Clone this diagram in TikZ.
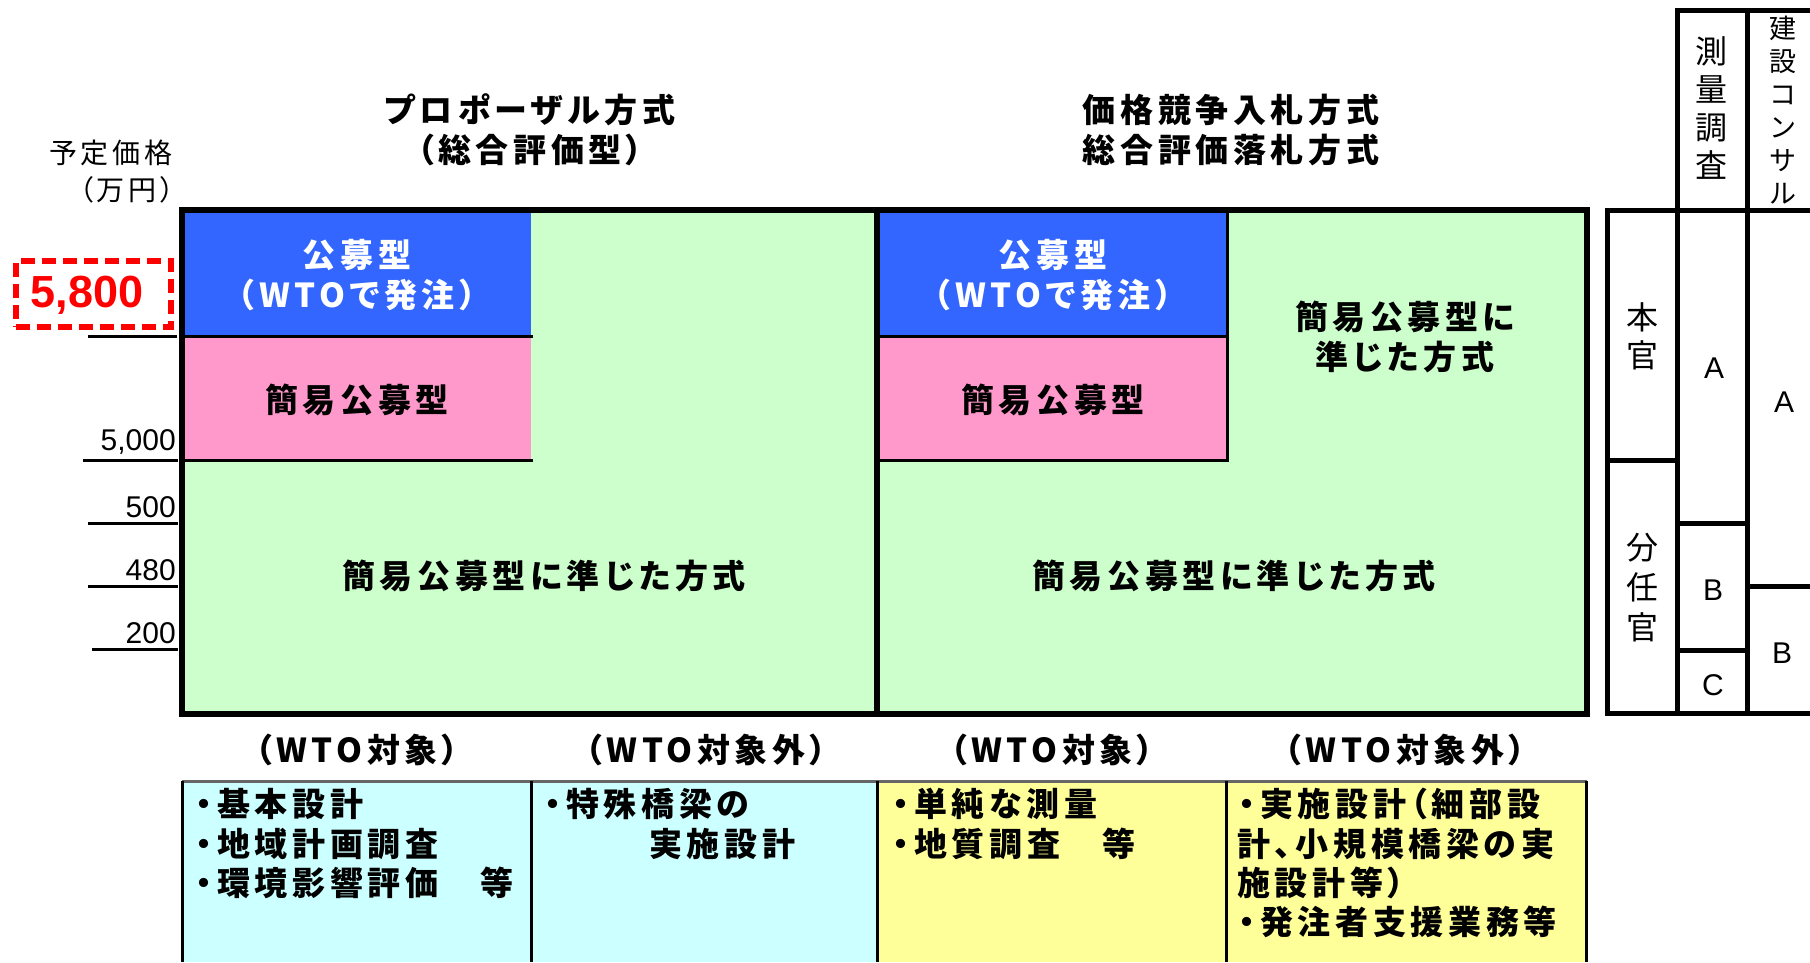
\documentclass[tikz,border=0pt]{standalone}
\usepackage{xcolor}
\usepackage{fontspec}
\setsansfont{Liberation Sans}
\newfontfamily\jpfont[LetterSpace=14,RawFeature=+palt]{Noto Sans CJK JP}
\newfontfamily\jpcell{Noto Sans CJK JP}
\usepackage{tikz}

\definecolor{openblue}{HTML}{3366FF}
\definecolor{simplepink}{HTML}{FF99CC}
\definecolor{restgreen}{HTML}{CCFFCC}
\definecolor{designcyan}{HTML}{CCFFFF}
\definecolor{surveyyellow}{HTML}{FFFF99}

\begin{document}
\begin{tikzpicture}[x=1pt, y=-1pt,
  jtext/.style={font=\jpfont\bfseries\fontsize{33}{40}\selectfont, align=center, inner sep=0pt},
  item/.style={jtext, anchor=west, align=left},
  cell/.style={font=\jpcell\fontsize{32}{38}\selectfont, align=center, inner sep=0pt},
  grade/.style={font=\sffamily\fontsize{30}{36}\selectfont, inner sep=0pt},
  value/.style={font=\sffamily\fontsize{30}{36}\selectfont, inner sep=0pt, anchor=south east},
  tick/.style={line width=3pt},
  split/.style={line width=3pt},
  rule/.style={line width=5pt},
  frame/.style={line width=6pt}]

\useasboundingbox (0,0) rectangle (1810,962);

% price scale on the left
\node[font=\jpfont\fontsize{28}{30}\selectfont, inner sep=0pt, anchor=east] (price-label) at (173,153) {予定価格};
\node[font=\jpfont\fontsize{28}{30}\selectfont, inner sep=0pt, anchor=east] (price-unit) at (175,190) {（万円）};

\node[draw=red, line width=6pt, dash pattern=on 14pt off 7pt,
  minimum width=155pt, minimum height=66pt, inner sep=0pt] (max-box) at (93.5,294) {};
\node[font=\sffamily\bfseries\fontsize{45}{48}\selectfont, text=red, inner sep=0pt] (max-price) at (87,295) {5,800};
\draw[tick] (88,336) -- (177,336);

\foreach \v/\y/\x [count=\i] in {{5,000}/460/83, 500/523/88, 480/586/88, 200/649/92} {
  \coordinate (tick-\i) at (\x,\y);
  \draw[tick] (tick-\i) -- (178,\y);
  \node[value] (value-\i) at (176,{\y-5}) {\v};
}

% the two panels
\fill[restgreen] (182,210) rectangle (1587,714);
\foreach \x in {182,877} {
  \fill[openblue] (\x,210) rectangle ++(349,126);
  \fill[simplepink] (\x,336) rectangle ++(349,124);
}
\draw[split] (182,336) -- (533,336) (182,460) -- (533,460);
\draw[split] (877,336) -- (1228,336) (877,460) -- (1227,460) -- (1227,210);
\draw[frame] (182,210) rectangle (1587,714);
\draw[frame] (877,210) -- (877,714);

\node[jtext] (title-proposal) at (530,130) {プロポーザル方式\\（総合評価型）};
\node[jtext] (title-price) at (1231,130) {価格競争入札方式\\総合評価落札方式};

\foreach \x [count=\n] in {357,1053} {
  \node[jtext, text=white] (open-\n) at (\x,275) {公募型\\（WTOで発注）};
  \node[jtext] (simple-\n) at (\x,400) {簡易公募型};
}
\node[jtext] (similar-1) at (544,576) {簡易公募型に準じた方式};
\node[jtext] (similar-2) at (1234,576) {簡易公募型に準じた方式};
\node[jtext] (similar-3) at (1405,337) {簡易公募型に\\準じた方式};

% grade table
\draw[rule] (1677,210) -- (1677,10) -- (1810,10);
\draw[rule] (1747,10) -- (1747,210);
\draw[rule] (1810,210) -- (1607,210) -- (1607,713) -- (1810,713);
\draw[rule] (1677,210) -- (1677,713) (1747,210) -- (1747,713);
\draw[rule] (1607,460) -- (1680,460) (1677,523) -- (1749,523)
  (1677,650) -- (1749,650) (1747,586) -- (1810,586);

\node[cell] (survey-head) at (1711,108) {測\\量\\調\\査};
\node[cell, font=\jpcell\fontsize{27}{33}\selectfont] (consult-head) at (1783,110) {建\\設\\コ\\ン\\サ\\ル};
\node[cell] (main-office) at (1642,336) {本\\官};
\node[cell, font=\jpcell\fontsize{32}{40}\selectfont] (branch-office) at (1642,588) {分\\任\\官};

\foreach \x/\y/\g [count=\i] in {1714/368/A, 1713/590/B, 1713/685/C, 1784/402/A, 1782/653/B}
  \node[grade] (grade-\i) at (\x,\y) {\g};

% work examples
\foreach \x/\t [count=\i] in {357/（WTO対象）, 706/（WTO対象外）, 1052/（WTO対象）, 1405/（WTO対象外）}
  \node[jtext] (scope-\i) at (\x,750) {\t};

\fill[designcyan] (182,781) rectangle (877,962);
\fill[surveyyellow] (877,781) rectangle (1587,962);
\draw[split, black!60] (182,781) -- (1587,781);
\foreach \x in {182,531,877,1226,1586}
  \draw[split] (\x,781) -- (\x,962);

\foreach \x/\y/\t [count=\i] in {
  196/804/・基本設計, 196/844/・地域計画調査, 196/883/・環境影響評価　等,
  545/804/・特殊橋梁の, 649/844/実施設計,
  893/804/・単純な測量, 893/844/・地質調査　等,
  1239/804/・実施設計（細部設, 1237/844/計、小規模橋梁の実,
  1237/883/施設計等）, 1239/922/・発注者支援業務等}
  \node[item] (task-\i) at (\x,\y) {\t};

\end{tikzpicture}
\end{document}
